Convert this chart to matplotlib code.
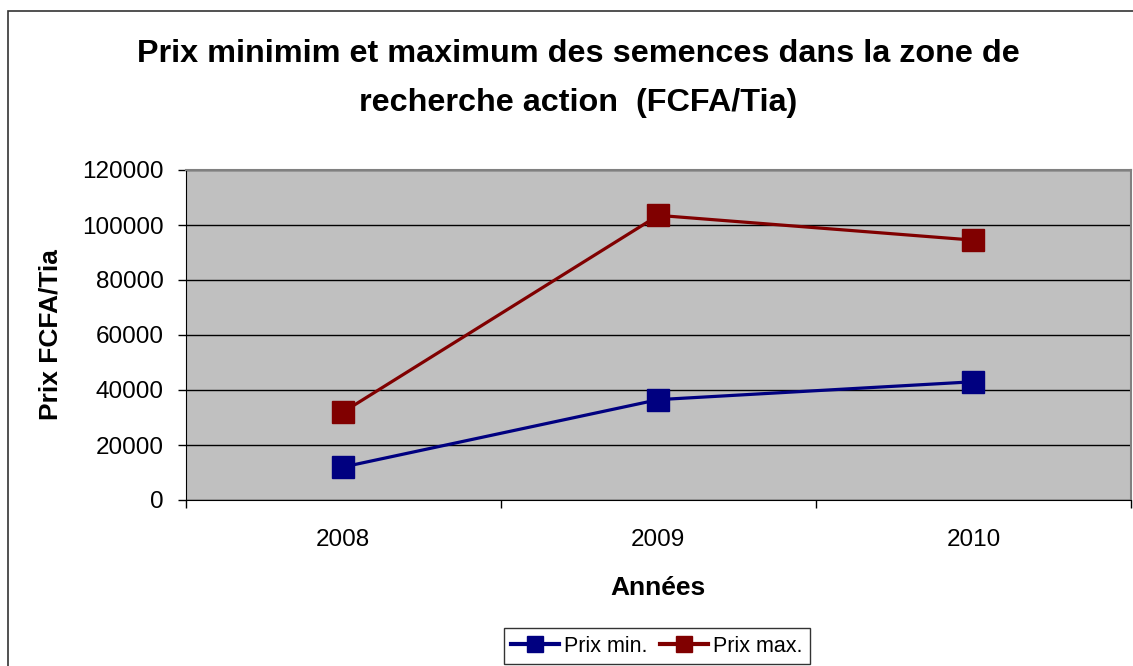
import numpy as np
import matplotlib.pyplot as plt
from matplotlib.patches import Rectangle

plt.rcParams['font.family'] = ['Liberation Sans', 'DejaVu Sans']

annees = ['2008', '2009', '2010']
prix_min = [12000, 36500, 43000]
prix_max = [32000, 103500, 94500]
y_ticks = [0, 20000, 40000, 60000, 80000, 100000, 120000]

W, H = 1133, 666
fig = plt.figure(figsize=(W / 100, H / 100), dpi=100)

# outer chart frame (runs off the right/bottom edge like the original)
fig.patches.append(Rectangle((8 / W, -0.1), 1.2, 1 - 11 / H + 0.1, transform=fig.transFigure,
                             fill=False, edgecolor='#333333', linewidth=1.2))

ax = fig.add_axes([185.6 / W, 1 - 500 / H, (1131 - 185.6) / W, 330 / H])
ax.set_facecolor('#c0c0c0')

x = np.arange(len(annees))
ax.plot(x, prix_min, color='#000080', lw=2.3, marker='s', ms=16, label='Prix min.')
ax.plot(x, prix_max, color='#800000', lw=2.3, marker='s', ms=16, label='Prix max.')

ax.set_ylim(0, 120000)
ax.set_yticks(y_ticks)
ax.set_xlim(-0.5, len(annees) - 0.5)
ax.set_xticks(x)
ax.set_xticklabels(annees)
ax.set_xticks(np.arange(len(annees) + 1) - 0.5, minor=True)
ax.tick_params(axis='x', which='major', length=0, pad=21, labelsize=17.5)
ax.tick_params(axis='x', which='minor', length=6, width=1, direction='out')
ax.tick_params(axis='y', length=6, width=1, pad=10, labelsize=17.5)
ax.grid(axis='y', color='black', lw=1)
ax.set_axisbelow(True)

for s in ['top', 'right']:
    ax.spines[s].set_color('#808080')
    ax.spines[s].set_linewidth(1.5)
ax.spines['left'].set_color('black')
ax.spines['bottom'].set_color('black')

ax.set_xlabel('Années', fontsize=19, fontweight='bold', labelpad=18)
ax.set_ylabel('Prix FCFA/Tia', fontsize=19, fontweight='bold', labelpad=14)

fig.text(578 / W, 1 - 62 / H, 'Prix minimim et maximum des semences dans la zone de',
         ha='center', va='baseline', fontsize=23.3, fontweight='bold')
fig.text(578 / W, 1 - 111 / H, 'recherche action  (FCFA/Tia)',
         ha='center', va='baseline', fontsize=23.3, fontweight='bold')

leg = fig.legend(loc='upper center', bbox_to_anchor=(657 / W, 1 - 628 / H), ncol=2,
                 fontsize=15.5, frameon=True, fancybox=False, edgecolor='black',
                 handlelength=2.2, handletextpad=0.25, columnspacing=0.6,
                 borderpad=0.35, borderaxespad=0, markerscale=0.75)
leg.get_frame().set_linewidth(1)
for ln in leg.get_lines():
    ln.set_linewidth(3)

fig.savefig('out.png', dpi=100)
